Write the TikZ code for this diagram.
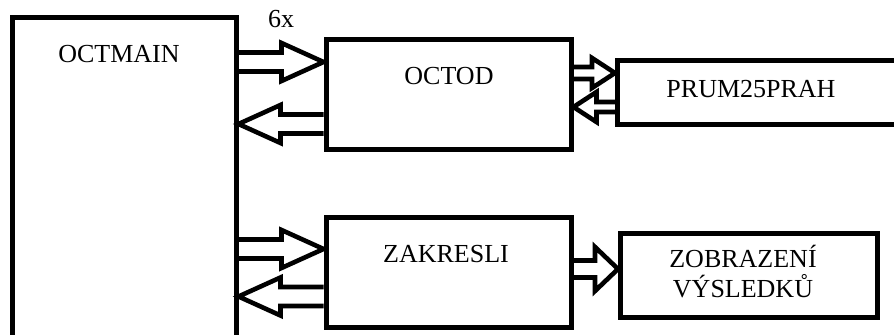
\documentclass[tikz,border=0pt]{standalone}
\usepackage{fontspec}
\setmainfont{Liberation Serif}
\usetikzlibrary{calc}

% thick outlined arrow from one box side to another at height #3
\newcommand{\fatarrow}[6]{%
  \draw[fatline] let \p1=(#1 |- 0,#3), \p2=(#2 |- 0,#3), \p3=($(\p2)!#4!(\p1)$) in
    (\x1,\y1+#5) -- (\x3,\y1+#5) -- (\x3,\y1+#6) -- (\p2)
    -- (\x3,\y1-#6) -- (\x3,\y1-#5) -- (\x1,\y1-#5);}

\begin{document}
\begin{tikzpicture}[x=0.5pt,y=-0.5pt,
  box/.style={draw, line width=2.5pt, inner sep=0pt},
  lbl/.style={inner sep=0pt, anchor=base, font=\fontsize{13pt}{15pt}\selectfont},
  fatline/.style={line width=2.3pt, line join=miter}]
\useasboundingbox (0,0) rectangle (894,335);
\node[box, minimum width=112pt, minimum height=171.25pt] (main) at (124,188.75) {};
\node[box, minimum width=122.5pt, minimum height=55pt] (octod) at (448.5,94.5) {};
\node[box, minimum width=151.25pt, minimum height=32pt] (prum) at (768.75,92.5) {};
\node[box, minimum width=122.5pt, minimum height=55pt] (zakr) at (448.5,272.5) {};
\node[box, minimum width=128.5pt, minimum height=41.75pt] (zobr) at (749,275.75) {};
\node[lbl] (mainlbl) at (119,63) {OCTMAIN};
\node[lbl] (octodlbl) at (449,85) {OCTOD};
\node[lbl] (prumlbl) at (751,98) {PRUM25PRAH};
\node[lbl] (zakrlbl) at (446,263) {ZAKRESLI};
\node[lbl, align=center] (zobrlbl) at (743,298) {ZOBRAZENÍ\\VÝSLEDKŮ};
\node[lbl] (count) at (281,28) {6x};
\fatarrow{main.east}{octod.west}{62}{21pt}{4.75pt}{9.5pt}
\fatarrow{octod.west}{main.east}{124}{21pt}{4.75pt}{9.5pt}
\fatarrow{main.east}{zakr.west}{249}{21pt}{4.75pt}{9.5pt}
\fatarrow{zakr.west}{main.east}{296.5}{21pt}{4.75pt}{9.5pt}
\fatarrow{octod.east}{prum.west}{73}{11.5pt}{3pt}{7.5pt}
\fatarrow{prum.west}{octod.east}{107}{11.5pt}{2.5pt}{7.5pt}
\fatarrow{zakr.east}{zobr.west}{269}{11.5pt}{4.25pt}{11pt}
\end{tikzpicture}
\end{document}
